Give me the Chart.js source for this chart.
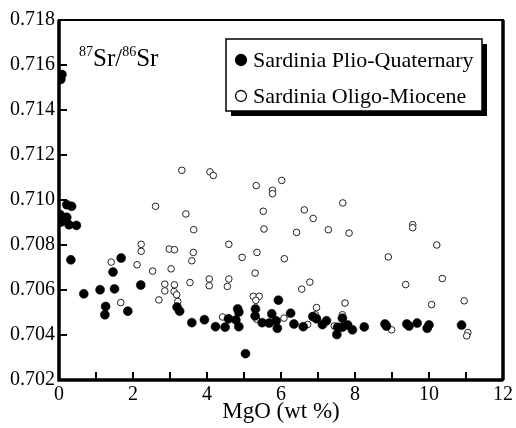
<!DOCTYPE html>
<html>
<head>
<meta charset="utf-8">
<script src="https://cdn.jsdelivr.net/npm/chart.js@4"></script>
<style>
  html, body { margin: 0; padding: 0; background: #fff; }
  #wrap { width: 516px; height: 428px; }
</style>
</head>
<body>
<div id="wrap"><canvas id="srChart" width="516" height="428"></canvas></div>
<script>
// Sardinia Plio-Quaternary (filled circles)
const pqMgO = [0.05, 0.08, 0.21, 0.34, 0.03, 0.21, 0.05, 0.27, 0.47, 0.32,
    0.67, 1.11, 1.26, 1.24, 1.50, 1.46, 1.68, 1.86, 2.21, 3.19, 3.26, 3.59, 3.93,
    4.23, 4.49, 4.58, 4.78, 4.86, 4.83, 4.86, 5.04, 5.31, 5.30, 5.49, 5.68, 5.75, 5.87, 5.90, 5.93,
    6.26, 6.35, 6.60, 6.86, 6.96, 7.12, 7.23, 7.51, 7.53, 7.66, 7.66, 7.80,
    7.93, 8.25, 8.81, 8.85, 9.40, 9.46, 9.68, 9.95, 10.00, 10.88];
const pqSr = [0.71536, 0.71558, 0.70979, 0.70972, 0.70935, 0.70923, 0.70902, 0.70890, 0.70887, 0.70734,
    0.70583, 0.70601, 0.70527, 0.70490, 0.70605, 0.70680, 0.70742, 0.70506, 0.70622, 0.70524, 0.70506, 0.70455, 0.70468,
    0.70437, 0.70435, 0.70472, 0.70467, 0.70437, 0.70516, 0.70502, 0.70317, 0.70516, 0.70485, 0.70455, 0.70453, 0.70494, 0.70463, 0.70430, 0.70555,
    0.70497, 0.70449, 0.70437, 0.70482, 0.70472, 0.70446, 0.70463, 0.70402, 0.70435, 0.70475, 0.70435, 0.70445,
    0.70423, 0.70436, 0.70449, 0.70440, 0.70449, 0.70440, 0.70453, 0.70430, 0.70445, 0.70444];

// Sardinia Oligo-Miocene (open circles)
const omMgO = [3.32, 4.08, 4.17, 5.33, 5.77, 5.77, 6.02, 2.61, 3.43, 3.64,
    5.52, 6.63, 6.87, 7.67, 5.54, 6.42, 7.28, 7.84, 9.56, 9.56,
    10.21, 5.35, 6.09, 8.90, 5.30, 10.36, 6.78, 6.56, 9.37, 5.25,
    5.41, 5.32, 6.96, 7.73, 10.07, 10.95, 11.05, 11.02, 8.99, 4.59,
    4.95, 4.06, 4.06, 4.59, 4.55, 4.42, 5.34, 6.08, 6.72, 7.44,
    7.66, 6.93, 2.22, 2.22, 2.98, 3.12, 3.63, 3.59, 1.41, 2.11,
    2.53, 3.03, 3.54, 2.86, 3.12, 2.86, 3.11, 3.18, 3.21, 2.70, 1.67];
const omSr = [0.71132, 0.71125, 0.71109, 0.71064, 0.71043, 0.71028, 0.71087, 0.70972, 0.70938, 0.70868,
    0.70950, 0.70956, 0.70918, 0.70987, 0.70871, 0.70856, 0.70868, 0.70853, 0.70890, 0.70877,
    0.70800, 0.70767, 0.70739, 0.70747, 0.70675, 0.70651, 0.70635, 0.70604, 0.70624, 0.70572,
    0.70572, 0.70554, 0.70522, 0.70542, 0.70535, 0.70552, 0.70411, 0.70396, 0.70423, 0.70803,
    0.70745, 0.70649, 0.70619, 0.70649, 0.70616, 0.70480, 0.70470, 0.70475, 0.70447, 0.70440,
    0.70490, 0.70490, 0.70803, 0.70772, 0.70782, 0.70779, 0.70767, 0.70730, 0.70724, 0.70712,
    0.70684, 0.70694, 0.70633, 0.70626, 0.70623, 0.70596, 0.70593, 0.70579, 0.70549, 0.70556, 0.70544];

const xTickVals = [0, 1, 2, 3, 4, 5, 6, 7, 8, 9, 10, 11, 12];
const yTickVals = [0.702, 0.704, 0.706, 0.708, 0.710, 0.712, 0.714, 0.716, 0.718];
const seriesNames = ["Sardinia Plio-Quaternary", "Sardinia Oligo-Miocene"];

const serif = "'Liberation Serif', 'Times New Roman', serif";

function pairs(xs, ys) {
    return xs.map((x, i) => ({ x: x, y: ys[i] }));
}

// frame, inward ticks, ratio label and boxed legend
const decorPlugin = {
    id: "decor",
    afterDraw(chart) {
        const ctx = chart.ctx;
        const a = chart.chartArea;
        const xs = chart.scales.x;
        const ys = chart.scales.y;
        ctx.save();
        ctx.strokeStyle = "#000";
        ctx.lineWidth = 2;
        ctx.strokeRect(a.left, a.top, a.right - a.left, a.bottom - a.top);
        ctx.lineWidth = 3.5;
        ctx.beginPath();
        ctx.moveTo(a.left, a.top);
        ctx.lineTo(a.left, a.bottom);
        ctx.lineTo(a.right, a.bottom);
        ctx.moveTo(a.right, a.top);
        ctx.lineTo(a.right, a.bottom);
        ctx.stroke();

        ctx.lineWidth = 2;
        ctx.beginPath();
        yTickVals.forEach(v => {
            const py = ys.getPixelForValue(v);
            ctx.moveTo(a.left, py);
            ctx.lineTo(a.left + 8, py);
        });
        xTickVals.forEach(v => {
            const px = xs.getPixelForValue(v);
            ctx.moveTo(px, a.bottom);
            ctx.lineTo(px, a.bottom - 8);
        });
        ctx.stroke();

        // 87Sr/86Sr
        ctx.fillStyle = "#000";
        ctx.textBaseline = "alphabetic";
        ctx.textAlign = "left";
        let tx = a.left + 20;
        const base = 66;
        ctx.font = "14px " + serif;
        ctx.fillText("87", tx, base - 10);
        tx += ctx.measureText("87").width;
        ctx.font = "25px " + serif;
        ctx.fillText("Sr/", tx, base);
        tx += ctx.measureText("Sr/").width;
        ctx.font = "14px " + serif;
        ctx.fillText("86", tx, base - 10);
        tx += ctx.measureText("86").width;
        ctx.font = "25px " + serif;
        ctx.fillText("Sr", tx, base);

        // legend box
        const bx = 226, by = 39, bw = 256, bh = 72;
        ctx.fillStyle = "#000";
        ctx.fillRect(bx + 5, by + 5, bw, bh);
        ctx.fillStyle = "#fff";
        ctx.fillRect(bx, by, bw, bh);
        ctx.lineWidth = 1.5;
        ctx.strokeStyle = "#000";
        ctx.strokeRect(bx, by, bw, bh);
        const rows = [60, 96];
        chart.data.datasets.forEach((ds, i) => {
            const cy = rows[i];
            ctx.beginPath();
            ctx.arc(bx + 15, cy, 5.5, 0, Math.PI * 2);
            ctx.fillStyle = ds.pointBackgroundColor;
            ctx.fill();
            ctx.lineWidth = 1.3;
            ctx.strokeStyle = "#000";
            ctx.stroke();
            ctx.fillStyle = "#000";
            ctx.font = "22px " + serif;
            ctx.textBaseline = "middle";
            ctx.fillText(ds.label, bx + 27, cy + 1);
        });
        ctx.restore();
    }
};

new Chart(document.getElementById("srChart"), {
    type: "scatter",
    data: {
        datasets: [{
            label: seriesNames[0],
            data: pairs(pqMgO, pqSr),
            pointRadius: 4.5,
            pointBackgroundColor: "#000",
            pointBorderColor: "#000",
            pointBorderWidth: 0.5,
            order: 0
        }, {
            label: seriesNames[1],
            data: pairs(omMgO, omSr),
            pointRadius: 3.3,
            pointBackgroundColor: "#fff",
            pointBorderColor: "#222",
            pointBorderWidth: 1,
            order: 1
        }]
    },
    options: {
        responsive: false,
        animation: false,
        layout: { padding: { left: 0, top: 20, right: 13, bottom: 0 } },
        scales: {
            x: {
                type: "linear",
                min: 0,
                max: 12,
                afterBuildTicks: scale => { scale.ticks = xTickVals.map(v => ({ value: v })); },
                afterFit: scale => { scale.height = 48; },
                grid: { display: false, drawTicks: false },
                border: { display: false },
                ticks: {
                    padding: 3,
                    color: "#000",
                    font: { size: 20, family: serif },
                    maxRotation: 0,
                    autoSkip: false,
                    callback: v => (v % 2 === 0 ? String(v) : "")
                },
                title: {
                    display: true,
                    text: "MgO (wt %)",
                    color: "#000",
                    font: { size: 23, family: serif },
                    padding: { top: 0, bottom: 2 }
                }
            },
            y: {
                type: "linear",
                min: 0.702,
                max: 0.718,
                afterBuildTicks: scale => { scale.ticks = yTickVals.map(v => ({ value: v })); },
                afterFit: scale => { scale.width = 59; },
                grid: { display: false, drawTicks: false },
                border: { display: false },
                ticks: {
                    padding: 4,
                    color: "#000",
                    font: { size: 20, family: serif },
                    autoSkip: false,
                    callback: v => v.toFixed(3)
                }
            }
        },
        plugins: {
            legend: { display: false },
            tooltip: { enabled: false }
        }
    },
    plugins: [decorPlugin]
});
</script>
</body>
</html>
